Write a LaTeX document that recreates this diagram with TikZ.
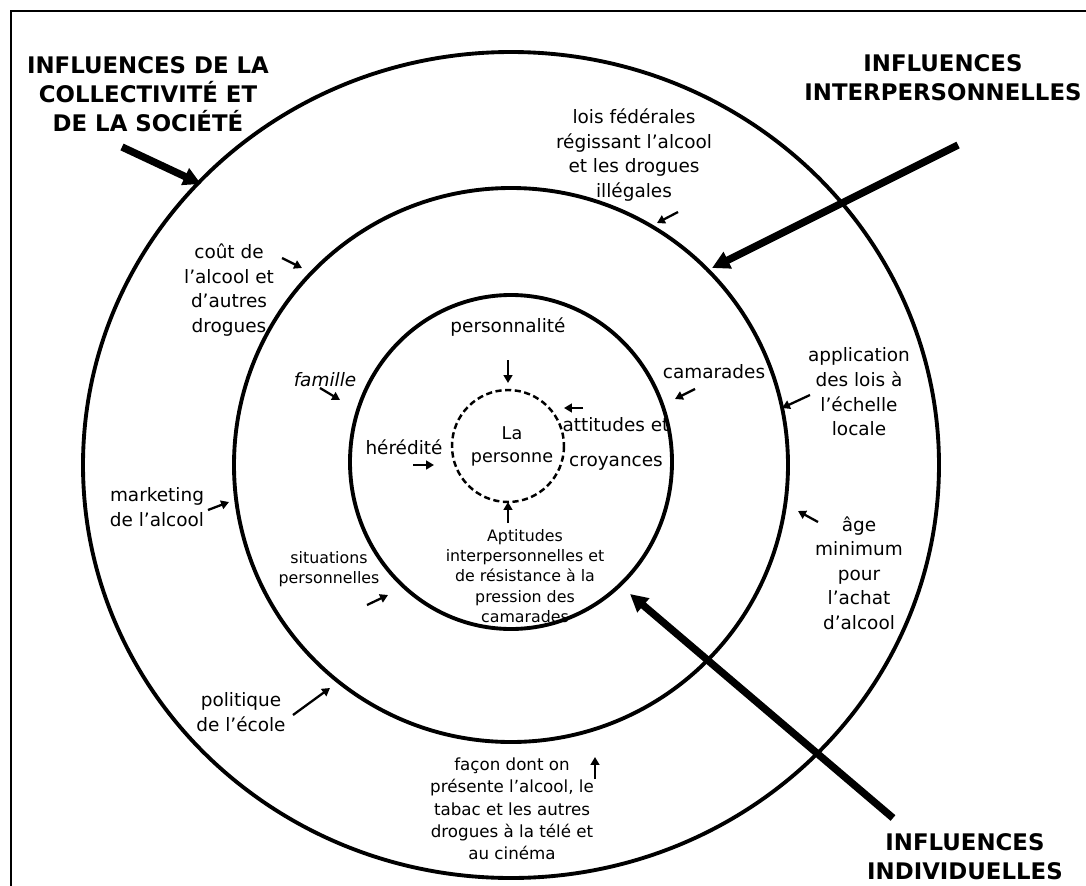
\documentclass[tikz,border=0pt]{standalone}
\usepackage{fontspec}
\setmainfont{DejaVu Sans}
\usetikzlibrary{arrows.meta}
\tikzstyle{ring}=[draw=black,line width=2.2pt]
\tikzstyle{lbl}=[align=center,inner sep=0pt,font=\fontsize{10.5}{14}\selectfont]
\tikzstyle{sml}=[align=center,inner sep=0pt,font=\fontsize{9}{11.6}\selectfont]
\tikzstyle{head}=[align=center,inner sep=0pt,font=\fontsize{13}{16.5}\selectfont\bfseries]
\tikzstyle{arr}=[-{Triangle[length=4.5pt,width=5pt]},draw=black,line width=1.3pt]
\tikzstyle{bigarr}=[-{Triangle[length=10pt,width=10pt]},draw=black,line width=4.2pt]

\begin{document}
\begin{tikzpicture}[x=0.02cm,y=-0.02cm]
  \useasboundingbox (0,0) rectangle (1086,886);
  % frame
  \draw[line width=1.1pt] (11,886) -- (11,11) -- (1086,11);

  % rings
  \coordinate (ctr) at (511,465);
  \draw[ring] (ctr) ellipse [x radius=428,y radius=413];
  \draw[ring] (ctr) circle [radius=277];
  \draw[ring] (511,462) ellipse [x radius=161,y radius=167];
  \draw[line width=1.4pt,dash pattern=on 3.5pt off 2pt] (508,446) circle [radius=56];

  % headings
  \node[head] (soc) at (148,94) {INFLUENCES DE LA\\COLLECTIVITÉ ET\\DE LA SOCIÉTÉ};
  \node[head] (inter) at (943,78) {INFLUENCES\\INTERPERSONNELLES};
  \node[head] (indiv) at (965,857) {INFLUENCES\\INDIVIDUELLES};

  \coordinate (soc-s) at (122,147);
  \coordinate (soc-e) at (201,184);
  \coordinate (inter-s) at (958,145);
  \coordinate (inter-e) at (712,268);
  \coordinate (indiv-s) at (893,818);
  \coordinate (indiv-e) at (630,594);
  \draw[bigarr] (soc-s) -- (soc-e);
  \draw[bigarr] (inter-s) -- (inter-e);
  \draw[bigarr] (indiv-s) -- (indiv-e);

  % outer ring
  \node[lbl] (lois) at (634,155) {lois fédérales\\régissant l’alcool\\et les drogues\\illégales};
  \node[lbl] (cout) at (229,290) {coût de\\l’alcool et\\d’autres\\drogues};
  \node[lbl] (mark) at (157,507) {marketing\\de l’alcool};
  \node[lbl] (poli) at (241,712) {politique\\de l’école};
  \node[sml,font=\fontsize{9.5}{12.7}\selectfont] (media) at (512,809) {façon dont on\\présente l’alcool, le\\tabac et les autres\\drogues à la télé et\\au cinéma};
  \node[lbl] (appl) at (859,392) {application\\des lois à\\l’échelle\\locale};
  \node[lbl] (age) at (859,573) {âge\\minimum\\pour\\l’achat\\d’alcool};

  % middle ring
  \node[lbl,font=\fontsize{10.5}{14}\selectfont\itshape] (fam) at (325,380) {famille};
  \node[lbl] (cam) at (714,372) {camarades};
  \node[sml] (sit) at (329,569) {situations\\personnelles};

  % inner ring
  \node[lbl] (pers) at (508,327) {personnalité};
  \node[lbl] (her) at (404,447) {hérédité};
  \node[lbl] (att) at (616,444) {attitudes et\\[6pt]croyances};
  \node[sml] (apt) at (525,576) {Aptitudes\\interpersonnelles et\\de résistance à la\\pression des\\camarades};
  \node[lbl,font=\fontsize{10}{13}\selectfont] (moi) at (512,446) {La\\personne};

  % small arrows
  \foreach \n/\a/\b in {lois/{678,212}/{657,223},cout/{282,258}/{302,268},
      mark/{208,510}/{229,502},poli/{293,715}/{330,688},media/{595,779}/{595,757},
      appl/{810,395}/{782,408},age/{818,522}/{798,511},fam/{320,388}/{340,400},
      cam/{695,389}/{675,399},sit/{367,605}/{388,595},pers/{508,360}/{508,383},
      her/{413,465}/{434,465},att/{583,408}/{564,408},apt/{508,523}/{508,502}}{
    \coordinate (\n-s) at (\a);
    \coordinate (\n-e) at (\b);
    \draw[arr] (\n-s) -- (\n-e);
  }
\end{tikzpicture}
\end{document}
